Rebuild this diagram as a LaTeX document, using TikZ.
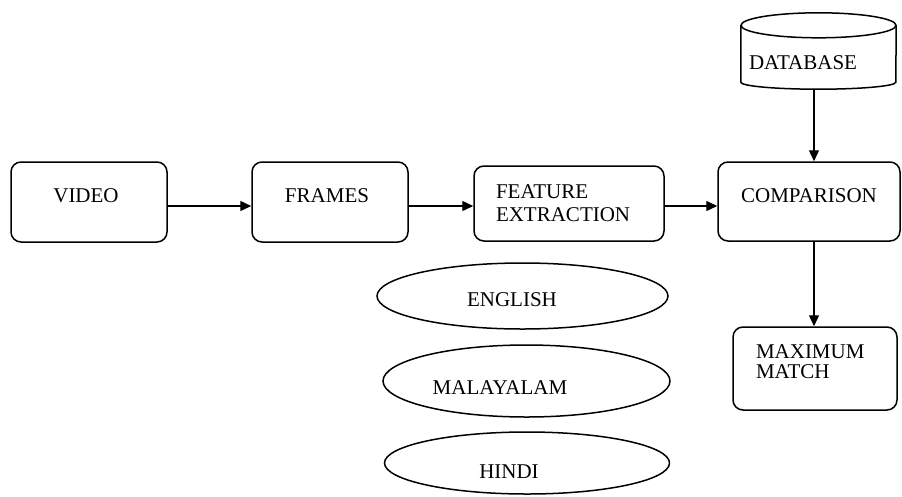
\documentclass[tikz,border=0pt]{standalone}
\usepackage{fontspec}
\setmainfont{Liberation Serif}
\usetikzlibrary{shapes.geometric,arrows.meta}
\begin{document}
\begin{tikzpicture}[x=1pt,y=-1pt,
  every node/.style={font=\fontsize{21}{23}\selectfont},
  box/.style={draw,line width=1.5pt,rounded corners=10pt,inner sep=0pt},
  lang/.style={draw,ellipse,line width=1.5pt,inner sep=0pt},
  arr/.style={line width=1.4pt,-{Triangle[length=11pt,width=10pt]}}]
\useasboundingbox (0,0) rectangle (902,496);
% boxes
\node[box,minimum width=156pt,minimum height=80pt,text height=14pt,text depth=12.8pt] (video) at (89,202) {VIDEO\hspace{6pt}\null};
\node[box,minimum width=156pt,minimum height=80pt,text height=14pt,text depth=12.8pt] (frames) at (330,202) {FRAMES\hspace{6pt}\null};
\node[box,minimum width=190pt,minimum height=75pt,inner xsep=22pt,text width=146pt,align=left] (fe) at (569,203.5) {FEATURE\\EXTRACTION};
\node[box,minimum width=182pt,minimum height=79pt,text height=14pt,text depth=11.8pt] (comp) at (809,201.5) {COMPARISON};
\node[box,minimum width=164pt,minimum height=83pt,inner xsep=23pt,text width=118pt,align=left,font=\fontsize{21}{20}\selectfont] (mm) at (815,368.5) {MAXIMUM\\MATCH\rule[-14pt]{0pt}{14pt}};
% database cylinder
\node[inner sep=0pt,minimum width=155pt,minimum height=56.5pt,text height=32pt,text depth=0.3pt] (db) at (818.5,53.75) {DATABASE\hspace{31pt}\null};
\draw[line width=1.5pt] (db.north) ellipse [x radius=77.5pt,y radius=12.5pt];
\draw[line width=1.5pt] (db.north west) -- (db.south west) arc [start angle=180,end angle=360,x radius=77.5pt,y radius=7pt] -- (db.north east);
% ellipses
\node[lang,minimum width=291pt,minimum height=66pt,text height=22pt,text depth=0.8pt] (eng) at (522.5,296) {ENGLISH\hspace{21pt}\null};
\node[lang,minimum width=287pt,minimum height=72pt,text height=28pt,text depth=0.8pt] (mal) at (526.5,381) {MALAYALAM\hspace{53pt}\null};
\node[lang,minimum width=285pt,minimum height=62pt,text height=32pt,text depth=0.8pt] (hin) at (527,463) {HINDI\hspace{36pt}\null};
% arrows
\draw[arr] ([yshift=-4pt]video.east) -- ([yshift=-4pt]frames.west);
\draw[arr] ([yshift=-4pt]frames.east) -- ([yshift=-2.5pt]fe.west);
\draw[arr] ([yshift=-2.5pt]fe.east) -- ([yshift=-4.5pt]comp.west);
\draw[arr] ([xshift=-4.5pt,yshift=-7pt]db.south) -- ([xshift=5pt]comp.north);
\draw[arr] ([xshift=5pt]comp.south) -- ([xshift=-1pt]mm.north);
\end{tikzpicture}
\end{document}
